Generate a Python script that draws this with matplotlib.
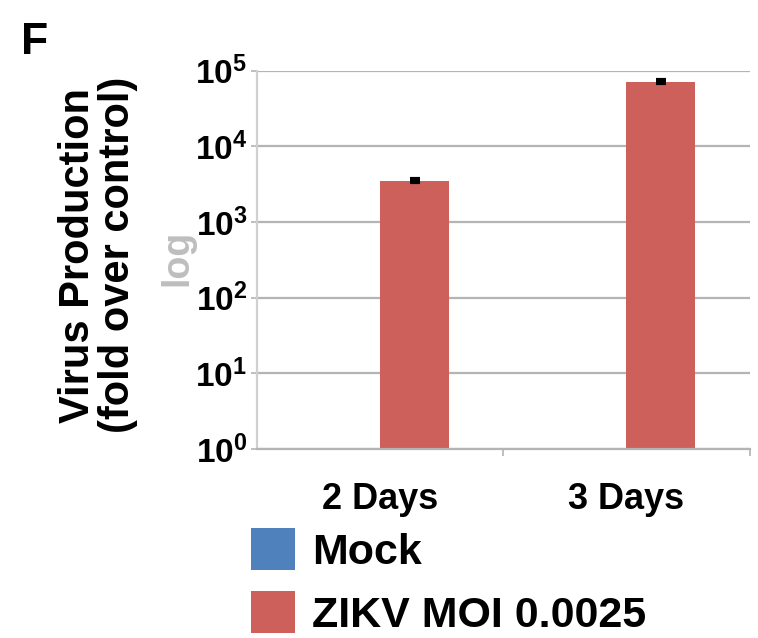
import numpy as np
import matplotlib
matplotlib.use("Agg")
import matplotlib.pyplot as plt
from matplotlib.ticker import FixedLocator, FuncFormatter

plt.rcParams['font.family'] = ['Liberation Sans', 'DejaVu Sans']
plt.rcParams['mathtext.fontset'] = 'custom'
plt.rcParams['mathtext.rm'] = 'Liberation Sans'
plt.rcParams['mathtext.bf'] = 'Liberation Sans:bold'

# data
days = ["2 Days", "3 Days"]
mock = [1, 1]
zikv = [3550, 72000]
zikv_err = [150, 2500]
series_names = ["Mock", "ZIKV MOI 0.0025"]

blue = "#4F81BD"
red = "#CD605A"
grid_grey = "#B4B4B4"

fig = plt.figure(figsize=(7.58, 6.38), dpi=100)
ax = fig.add_axes([0.339, 0.296, 0.650, 0.593])

x = np.arange(len(days))
w = 0.28
b1 = ax.bar(x - w / 2, mock, w, color=blue, label=series_names[0])
b2 = ax.bar(x + w / 2, zikv, w, color=red, label=series_names[1])
ax.errorbar(x + w / 2, zikv, yerr=zikv_err, fmt='none', ecolor='black',
            elinewidth=2, capsize=3.5, capthick=3)

ax.set_yscale('log')
ax.set_ylim(1, 1e5)
ax.set_xlim(-0.5, 1.5)
ax.yaxis.set_major_locator(FixedLocator([10 ** k for k in range(6)]))
ax.yaxis.set_minor_locator(FixedLocator([]))
ax.yaxis.set_major_formatter(FuncFormatter(lambda v, p: r'$\mathbf{10^{%d}}$' % round(np.log10(v))))
ax.grid(axis='y', color=grid_grey, linewidth=1.6)
ax.set_axisbelow(True)

ax.set_xticks(x)
ax.set_xticklabels(days, fontsize=26, fontweight='bold')
ax.xaxis.set_minor_locator(FixedLocator([0.5, 1.5]))
ax.tick_params(axis='x', which='major', length=0, pad=24)
ax.tick_params(axis='x', which='minor', length=5, color=grid_grey, width=1.2)
ax.tick_params(axis='y', length=4, color=grid_grey, width=1.2, labelsize=24, pad=3)

for s in ['top', 'right']:
    ax.spines[s].set_visible(False)
ax.spines['left'].set_color("#D0D0D0")
ax.spines['left'].set_linewidth(1.6)
ax.spines['bottom'].set_color(grid_grey)
ax.spines['bottom'].set_linewidth(1.6)

fig.text(0.129, 0.6, "Virus Production\n(fold over control)", rotation=90,
         ha='center', va='center', fontsize=30, fontweight='bold', linespacing=1.0)
fig.text(0.234, 0.596, "log", rotation=90, ha='center', va='center',
         fontsize=27, fontweight='bold', color="#BEBEBE")
fig.text(0.028, 0.965, "F", ha='left', va='top', fontsize=32, fontweight='bold')

fig.legend(handles=[b1, b2], labels=series_names, loc='upper left',
           bbox_to_anchor=(0.331, 0.172), frameon=False,
           prop={'size': 31, 'weight': 'bold'}, handlelength=1.03,
           handleheight=1.13, handletextpad=0.4, labelspacing=0.42,
           borderpad=0, borderaxespad=0)

fig.savefig("out.png", dpi=100)
